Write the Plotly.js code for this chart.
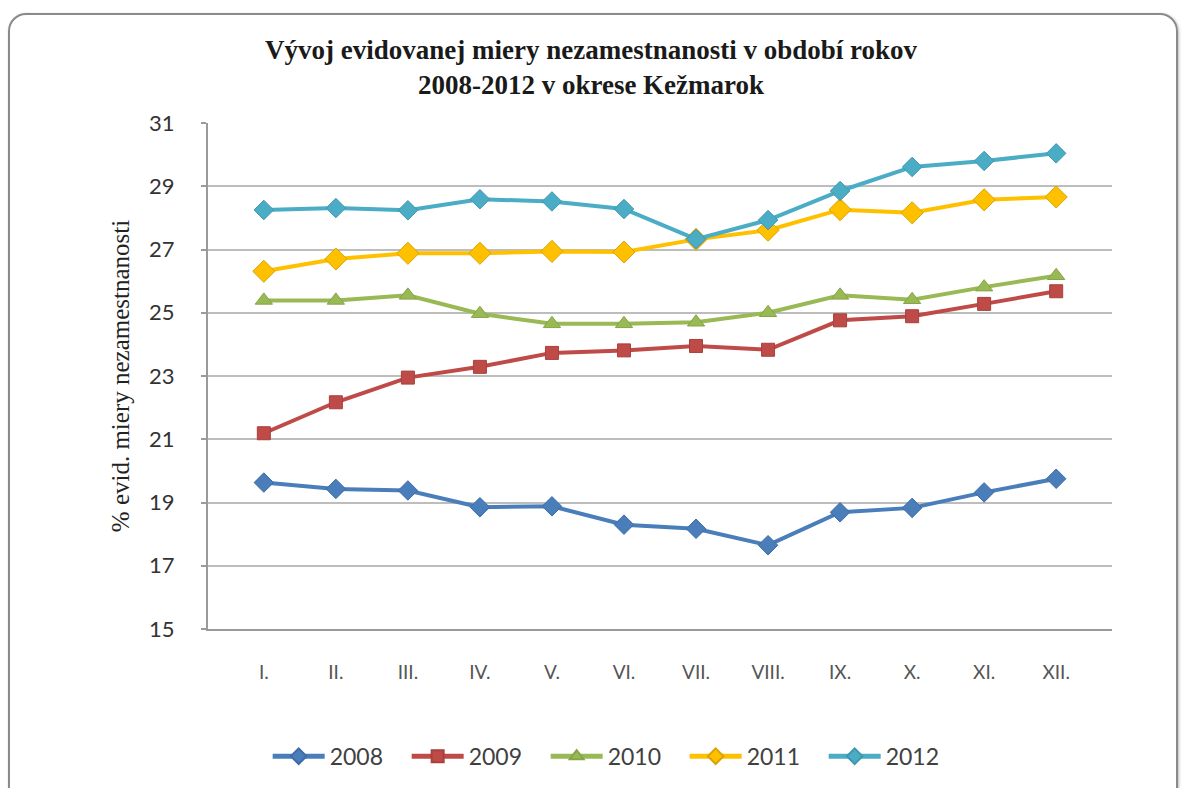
<!DOCTYPE html>
<html>
<head>
<meta charset="utf-8">
<script src="https://cdn.plot.ly/plotly-3.0.1.min.js"></script>
<style>
  html, body { margin: 0; padding: 0; background: #ffffff; overflow: hidden; }
  #frame { position: absolute; left: 8px; top: 13px; width: 1166px; height: 800px;
           border: 2px solid #8a8a8a; border-radius: 18px; box-shadow: 1px 1px 3px #bbbbbb; }
  #chart { position: absolute; left: 0; top: 0; width: 1182px; height: 788px; }
</style>
</head>
<body>
<div id="frame"></div>
<div id="chart"></div>
<script>
const months = ["I.", "II.", "III.", "IV.", "V.", "VI.", "VII.", "VIII.", "IX.", "X.", "XI.", "XII."];
const years = ["2008", "2009", "2010", "2011", "2012"];
const v2008 = [19.63, 19.43, 19.38, 18.85, 18.88, 18.30, 18.17, 17.65, 18.69, 18.83, 19.32, 19.75];
const v2009 = [21.19, 22.17, 22.95, 23.29, 23.73, 23.81, 23.95, 23.83, 24.76, 24.89, 25.28, 25.68];
const v2010 = [25.39, 25.39, 25.55, 24.97, 24.65, 24.65, 24.70, 25.00, 25.55, 25.41, 25.81, 26.17];
const v2011 = [26.31, 26.70, 26.88, 26.88, 26.94, 26.92, 27.32, 27.61, 28.26, 28.16, 28.57, 28.66];
const v2012 = [28.25, 28.31, 28.24, 28.59, 28.52, 28.28, 27.33, 27.93, 28.85, 29.61, 29.80, 30.04];
const yTicks = [15, 17, 19, 21, 23, 25, 27, 29, 31];

const series = [v2008, v2009, v2010, v2011, v2012];
const colors = ["#4A7EBB", "#BE4B48", "#98B954", "#FFC000", "#4BACC6"];
const edge = ["#3E6CA6", "#A8403D", "#86A548", "#D9A300", "#3F97AF"];
const symbols = ["diamond", "square", "triangle-up", "diamond", "diamond"];
const sizes = [15, 13, 15, 17, 15];

const traces = series.map((vals, i) => ({
  type: "scatter",
  mode: "lines+markers",
  name: years[i],
  x: months,
  y: vals,
  line: { color: colors[i], width: 4 },
  marker: { symbol: symbols[i], size: sizes[i], color: colors[i], line: { color: edge[i], width: 1 } }
}));

const layout = {
  width: 1182,
  height: 788,
  paper_bgcolor: "rgba(0,0,0,0)",
  plot_bgcolor: "#ffffff",
  margin: { l: 208, r: 70, t: 123, b: 158 },
  showlegend: true,
  title: {
    text: "<b>Vývoj evidovanej miery nezamestnanosti v období rokov<br>2008-2012 v okrese Kežmarok</b>",
    font: { family: "Liberation Serif, Times New Roman, serif", size: 27, color: "#1a1a1a" },
    x: 0.5, xanchor: "center", xref: "container",
    y: 1 - 59 / 788, yanchor: "top", yref: "container"
  },
  xaxis: {
    type: "category",
    categoryarray: months,
    tickvals: months,
    ticktext: months,
    showgrid: false,
    zeroline: false,
    showline: true,
    linecolor: "#9a9a9a",
    linewidth: 2,
    ticks: "",
    ticklabelstandoff: 25,
    tickfont: { family: "Lato, Open Sans, sans-serif", size: 19, color: "#555555" }
  },
  yaxis: {
    range: [15, 31],
    tickvals: yTicks,
    ticktext: yTicks.map(String),
    showgrid: true,
    gridcolor: "#BDBDBD",
    gridwidth: 2,
    zeroline: false,
    showline: true,
    linecolor: "#9a9a9a",
    linewidth: 2,
    ticks: "outside",
    ticklen: 5,
    tickwidth: 2,
    tickcolor: "#9a9a9a",
    ticklabelstandoff: 22,
    tickfont: { family: "Lato, Open Sans, sans-serif", size: 22, color: "#333333" },
    title: {
      text: "% evid. miery nezamestnanosti",
      font: { family: "Liberation Serif, Times New Roman, serif", size: 25, color: "#222222" },
      standoff: 12
    }
  },
  legend: {
    orientation: "h",
    x: 0.066, xanchor: "left",
    y: -0.249, yanchor: "middle",
    itemwidth: 52,
    itemsizing: "constant",
    entrywidth: 72,
    entrywidthmode: "pixels",
    font: { family: "Lato, Open Sans, sans-serif", size: 23, color: "#404040" },
    bgcolor: "rgba(0,0,0,0)"
  }
};

Plotly.newPlot("chart", traces, layout, { displayModeBar: false, staticPlot: true });
</script>
</body>
</html>
